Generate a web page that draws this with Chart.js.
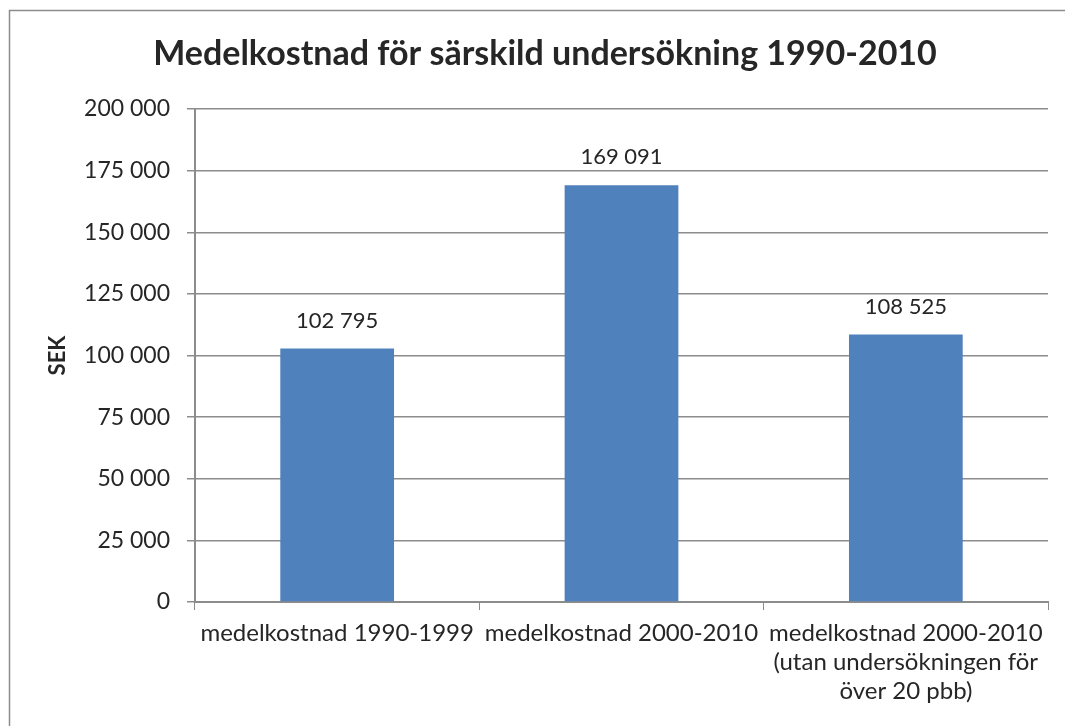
<!DOCTYPE html>
<html>
<head>
<meta charset="utf-8">
<script src="https://cdn.jsdelivr.net/npm/chart.js@4"></script>
<style>
  html, body { margin: 0; padding: 0; background: #fff; }
  #wrap { width: 1065px; height: 726px; }
</style>
</head>
<body>
<div id="wrap"><canvas id="chartBars" width="1065" height="726"></canvas></div>
<script>
// chart data
const categories = [
  "medelkostnad 1990-1999",
  "medelkostnad 2000-2010",
  ["medelkostnad 2000-2010", "(utan undersökningen för", "över 20 pbb)"]
];
const costs = [102795, 169091, 108525];
const yTicks = [0, 25000, 50000, 75000, 100000, 125000, 150000, 175000, 200000];
const chartTitle = "Medelkostnad för särskild undersökning 1990-2010";
const yTitle = "SEK";

const fontFamily = "Lato, 'Open Sans', sans-serif";
const gridGray = "#8c8c8c";
const textDark = "#262626";

// 102795 -> "102 795"
function fmt(v) {
  return String(v).replace(/\B(?=(\d{3})+(?!\d))/g, " ");
}

// frame + title + value labels
const decorations = {
  id: 'decorations',
  beforeDraw(chart) {
    const ctx = chart.ctx;
    ctx.save();
    ctx.strokeStyle = gridGray;
    ctx.lineWidth = 1.5;
    ctx.strokeRect(9.5, 10.5, 1200, 1000);
    ctx.restore();
  },
  afterDatasetsDraw(chart) {
    const ctx = chart.ctx;
    ctx.save();
    ctx.fillStyle = textDark;
    ctx.textAlign = 'center';
    ctx.textBaseline = 'middle';
    ctx.font = "bold 34px " + fontFamily;
    ctx.fillText(chartTitle, 545, 54);

    ctx.font = "22px " + fontFamily;
    const meta = chart.getDatasetMeta(0);
    meta.data.forEach((bar, i) => {
      ctx.fillText(fmt(costs[i]), bar.x, bar.y - 28);
    });
    ctx.restore();
  }
};

const ctx = document.getElementById('chartBars').getContext('2d');
const chartBars = new Chart(ctx, {
  type: 'bar',
  data: {
    labels: categories,
    datasets: [{
      data: costs,
      backgroundColor: "#4f81bd",
      barPercentage: 0.4,
      categoryPercentage: 1.0
    }]
  },
  options: {
    responsive: false,
    animation: false,
    layout: { padding: { top: 109, right: 17, bottom: 0, left: 0 } },
    plugins: {
      legend: { display: false },
      tooltip: { enabled: false },
      title: { display: false }
    },
    scales: {
      x: {
        grid: { drawOnChartArea: false, drawTicks: true, tickLength: 8, color: gridGray, offset: true },
        border: { display: true, color: gridGray, width: 2 },
        ticks: {
          color: textDark,
          padding: 9,
          maxRotation: 0,
          autoSkip: false,
          font: { family: fontFamily, size: 24, lineHeight: 1.21 }
        },
        afterFit(scale) { scale.height = 124; }
      },
      y: {
        min: 0,
        max: 200000,
        afterBuildTicks(scale) { scale.ticks = yTicks.map(v => ({ value: v })); },
        grid: { color: gridGray, lineWidth: 1.5, tickLength: 8 },
        border: { display: true, color: gridGray, width: 2 },
        ticks: {
          color: textDark,
          padding: 17,
          font: { family: fontFamily, size: 23 },
          callback: v => fmt(v)
        },
        title: {
          display: true,
          text: yTitle,
          color: textDark,
          font: { family: fontFamily, size: 22, weight: 'bold' },
          padding: { top: 45, bottom: 0 }
        },
        afterFit(scale) { scale.width = 195; }
      }
    }
  },
  plugins: [decorations]
});
</script>
</body>
</html>
